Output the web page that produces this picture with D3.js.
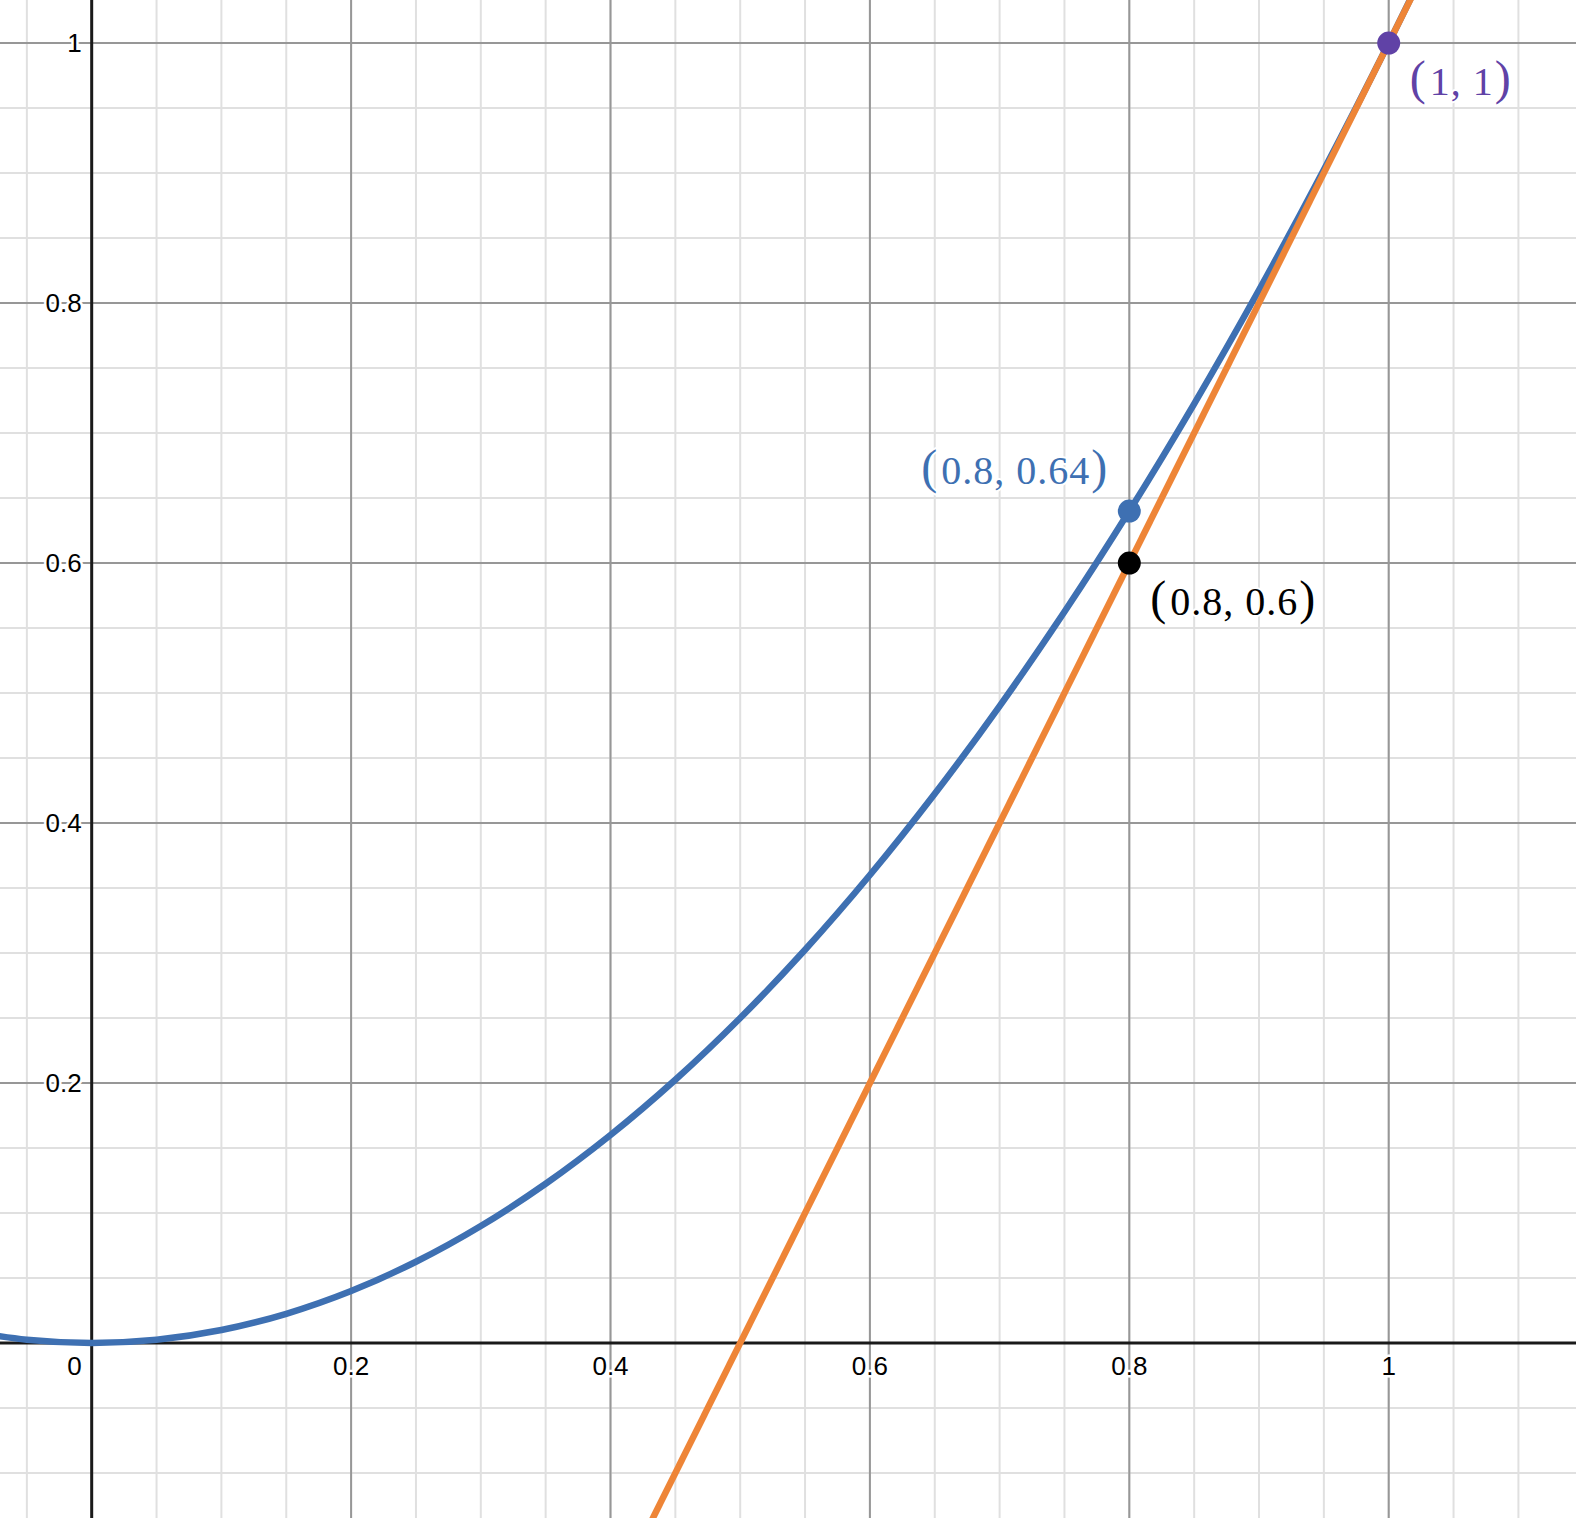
<!DOCTYPE html>
<html>
<head>
<meta charset="utf-8">
<script src="https://cdn.jsdelivr.net/npm/d3@7"></script>
<style>
  html, body { margin: 0; padding: 0; background: #fff; overflow: hidden; }
  .tick-label { font-family: "Liberation Sans", Arial, sans-serif; font-size: 26px; fill: #000;
                paint-order: stroke; stroke: #fff; stroke-width: 5px; stroke-linejoin: round; }
  .pt-label { font-family: "Liberation Serif", "Times New Roman", serif; font-size: 40px;
              letter-spacing: 1px;
              paint-order: stroke; stroke: #fff; stroke-width: 4px; stroke-linejoin: round; }
  .paren { font-size: 48px; letter-spacing: 0; }
</style>
</head>
<body>
<script>
// chart data

var xTicks = [0.2, 0.4, 0.6, 0.8, 1];
var yTicks = [0.2, 0.4, 0.6, 0.8, 1];

// blue curve (y = x^2) every 0.05
var curveX = [-0.1, -0.05, 0, 0.05, 0.1, 0.15, 0.2, 0.25, 0.3, 0.35, 0.4, 0.45, 0.5,
              0.55, 0.6, 0.65, 0.7, 0.75, 0.8, 0.85, 0.9, 0.95, 1, 1.05];
var curveY = [0.01, 0.0025, 0, 0.0025, 0.01, 0.0225, 0.04, 0.0625, 0.09, 0.1225, 0.16, 0.2025, 0.25,
              0.3025, 0.36, 0.4225, 0.49, 0.5625, 0.64, 0.7225, 0.81, 0.9025, 1, 1.1025];

// tangent line endpoints (orange)
var lineX = [0.4, 1.1];
var lineY = [-0.2, 1.2];

var pointNames = ["0.8, 0.64", "0.8, 0.6", "1, 1"];
var pointX = [0.8, 0.8, 1];
var pointY = [0.64, 0.6, 1];
var pointColors = ["#3e70b2", "#000000", "#6042a6"];

// setup

var width = 1576,
    height = 1518;

var x = d3.scaleLinear().domain([-0.0707, 1.1444]).range([0, width]);
var y = d3.scaleLinear().domain([-0.1346, 1.0331]).range([height, 0]);

var svg = d3.select("body").append("svg")
    .attr("width", width)
    .attr("height", height);

// grid, minor every 0.05 then major every 0.2
var minorX = d3.range(-0.05, 1.16, 0.05),
    minorY = d3.range(-0.1, 1.05, 0.05);

svg.append("g").selectAll("line").data(minorX).enter().append("line")
    .attr("x1", function(d) { return x(d); }).attr("x2", function(d) { return x(d); })
    .attr("y1", 0).attr("y2", height)
    .attr("stroke", "#e0e0e0").attr("stroke-width", 2);
svg.append("g").selectAll("line").data(minorY).enter().append("line")
    .attr("y1", function(d) { return y(d); }).attr("y2", function(d) { return y(d); })
    .attr("x1", 0).attr("x2", width)
    .attr("stroke", "#e0e0e0").attr("stroke-width", 2);

svg.append("g").selectAll("line").data(xTicks).enter().append("line")
    .attr("x1", function(d) { return x(d); }).attr("x2", function(d) { return x(d); })
    .attr("y1", 0).attr("y2", height)
    .attr("stroke", "#979797").attr("stroke-width", 2);
svg.append("g").selectAll("line").data(yTicks).enter().append("line")
    .attr("y1", function(d) { return y(d); }).attr("y2", function(d) { return y(d); })
    .attr("x1", 0).attr("x2", width)
    .attr("stroke", "#979797").attr("stroke-width", 2);

// axes
svg.append("line").attr("x1", 0).attr("x2", width).attr("y1", y(0)).attr("y2", y(0))
    .attr("stroke", "#1a1a1a").attr("stroke-width", 3);
svg.append("line").attr("x1", x(0)).attr("x2", x(0)).attr("y1", 0).attr("y2", height)
    .attr("stroke", "#1a1a1a").attr("stroke-width", 3);

// tick labels
svg.append("g").selectAll("text").data(xTicks).enter().append("text")
    .attr("class", "tick-label")
    .attr("x", function(d) { return x(d); })
    .attr("y", y(0) + 32)
    .attr("text-anchor", "middle")
    .text(function(d) { return d3.format("")(d); });
svg.append("text").attr("class", "tick-label")
    .attr("x", x(0) - 10).attr("y", y(0) + 32)
    .attr("text-anchor", "end").text("0");
svg.append("g").selectAll("text").data(yTicks).enter().append("text")
    .attr("class", "tick-label")
    .attr("x", x(0) - 10)
    .attr("y", function(d) { return y(d) + 9; })
    .attr("text-anchor", "end")
    .text(function(d) { return d3.format("")(d); });

// curves
var lineGen = d3.line()
    .x(function(d) { return x(d[0]); })
    .y(function(d) { return y(d[1]); });

svg.append("path")
    .datum(d3.zip(curveX, curveY))
    .attr("d", lineGen.curve(d3.curveCatmullRom))
    .attr("fill", "none").attr("stroke", "#3e70b2").attr("stroke-width", 6.5)
    .attr("stroke-linecap", "round");

svg.append("path")
    .datum(d3.zip(lineX, lineY))
    .attr("d", lineGen.curve(d3.curveLinear))
    .attr("fill", "none").attr("stroke", "#ee8537").attr("stroke-width", 6.5);

// points and their labels
var pts = d3.range(pointNames.length).map(function(i) {
  return { name: pointNames[i], x: pointX[i], y: pointY[i], color: pointColors[i] };
});
// label offsets in px, relative to the point
var labelDx = [-22, 21, 21],
    labelDy = [-27, 52, 52],
    labelAnchor = ["end", "start", "start"];

svg.append("g").selectAll("circle").data(pts).enter().append("circle")
    .attr("cx", function(d) { return x(d.x); })
    .attr("cy", function(d) { return y(d.y); })
    .attr("r", 11.5)
    .attr("fill", function(d) { return d.color; });

var labels = svg.append("g").selectAll("text").data(pts).enter().append("text")
    .attr("class", "pt-label")
    .attr("x", function(d, i) { return x(d.x) + labelDx[i]; })
    .attr("y", function(d, i) { return y(d.y) + labelDy[i]; })
    .attr("text-anchor", function(d, i) { return labelAnchor[i]; })
    .attr("fill", function(d) { return d.color; });

labels.append("tspan").attr("class", "paren").attr("dy", -1).text("(");
labels.append("tspan").attr("dy", 1).attr("dx", 4).text(function(d) { return d.name; });
labels.append("tspan").attr("class", "paren").attr("dy", -1).attr("dx", 1).text(")");
</script>
</body>
</html>
